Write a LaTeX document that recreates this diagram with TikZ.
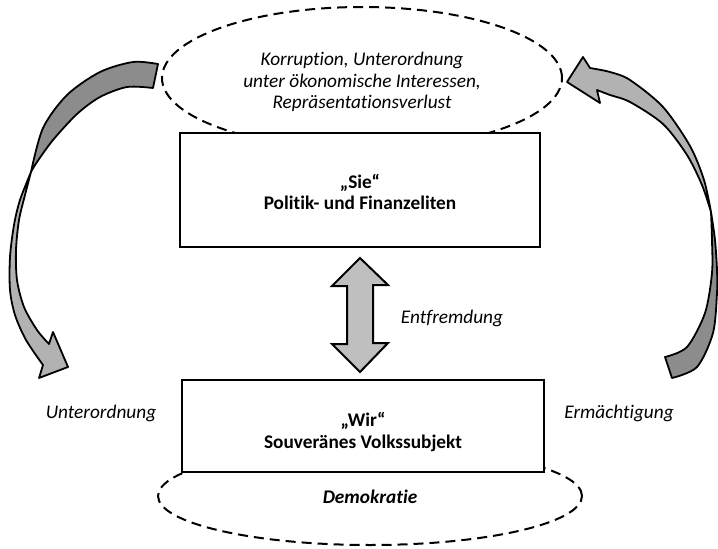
\documentclass[tikz,border=0pt]{standalone}
\usepackage{fontspec}
\setmainfont{Carlito}[Ligatures={NoCommon}]
\usetikzlibrary{shapes.geometric}
\begin{document}
\begin{tikzpicture}[x=1pt,y=-1pt,
  boxst/.style={draw,line width=2pt,fill=white,inner sep=0pt},
  ellst/.style={ellipse,draw,line width=2pt,dash pattern=on 10pt off 6pt,inner sep=0pt},
  itx/.style={font=\fontsize{19.3}{21.5}\selectfont\itshape,align=center,inner sep=0pt},
  btx/.style={font=\fontsize{19.3}{21.5}\selectfont\bfseries,align=center,inner sep=0pt},
  ribbon/.style={draw,line width=1.8pt,line join=round},
  lightg/.style={fill=black!30},
  darkg/.style={fill=black!45},
  darrow/.style={draw,line width=2pt,fill=black!25,line join=miter}]
\useasboundingbox (0,0) rectangle (718,549);
% ellipses
\node[ellst,minimum width=400pt,minimum height=142pt] (topell) at (362,78) {};
\node[ellst,minimum width=424pt,minimum height=98pt] (botell) at (370,496) {};
% boxes
\node[boxst,minimum width=360pt,minimum height=114pt] (sie) at (360,190) {};
\node[boxst,minimum width=362pt,minimum height=92pt] (wir) at (363,426) {};
% double arrow
\coordinate (dtop) at (360,258);
\coordinate (dbot) at (360,372);
\draw[darrow] (dtop) -- ++(28,27) -- ++(-15,0) -- ++(0,58) -- ++(15,0) -- (dbot)
  -- ++(-28,-28) -- ++(15,0) -- ++(0,-58) -- ++(-15,0) -- cycle;
% left curved arrow: dark twisted tail part
\coordinate (lx) at (31,172);
\draw[ribbon,darkg] plot[smooth] coordinates {(158,64) (133,62) (100,72) (67,95) (43,128) (31,172)}
  -- plot[smooth] coordinates {(31,172) (37,162) (53,140) (77,114) (100,97) (127,87) (153,88)} -- cycle;
% left curved arrow: light head part
\draw[ribbon,lightg] plot[smooth] coordinates {(31,172) (20,200) (14,225) (10,257) (10,290) (15,315) (26,340) (43,365)}
  -- (39,378) -- (68,367) -- (53,332)
  -- plot[smooth] coordinates {(49,344) (37,330) (24,307) (17,280) (16,250) (19,220) (25,195) (31,172)} -- cycle;
% right curved arrow: light head part
\draw[ribbon,lightg] plot[smooth] coordinates {(590,68) (610,72) (630,80) (663,107) (690,146) (704,180) (711,212)}
  -- plot[smooth] coordinates {(711,212) (702,185) (687,155) (663,124) (630,102) (610,95) (597,90)}
  -- (600,103) -- (567,82) -- (583,57) -- cycle;
% right curved arrow: dark twisted tail part
\draw[ribbon,darkg] plot[smooth] coordinates {(711,212) (715,240) (717,270) (717,293) (713,333) (697,367) (672,378)}
  -- plot[smooth] coordinates {(665,357) (687,347) (705,313) (712,273) (712,240) (711,212)} -- cycle;
% texts
\node[itx] (korr) at (362,82) {Korruption, Unterordnung\\unter ökonomische Interessen,\\Repräsentationsverlust};
\node[btx] (sietx) at (360,192) {„Sie“\\Politik- und Finanzeliten};
\node[itx] (entf) at (452,318) {Entfremdung};
\node[btx] (wirtx) at (363,432) {„Wir“\\Souveränes Volkssubjekt};
\node[itx,font=\fontsize{19.3}{21.5}\selectfont\bfseries\itshape] (demo) at (370,497) {Demokratie};
\node[itx] (unter) at (101,413) {Unterordnung};
\node[itx] (erm) at (619,413) {Ermächtigung};
\end{tikzpicture}
\end{document}
